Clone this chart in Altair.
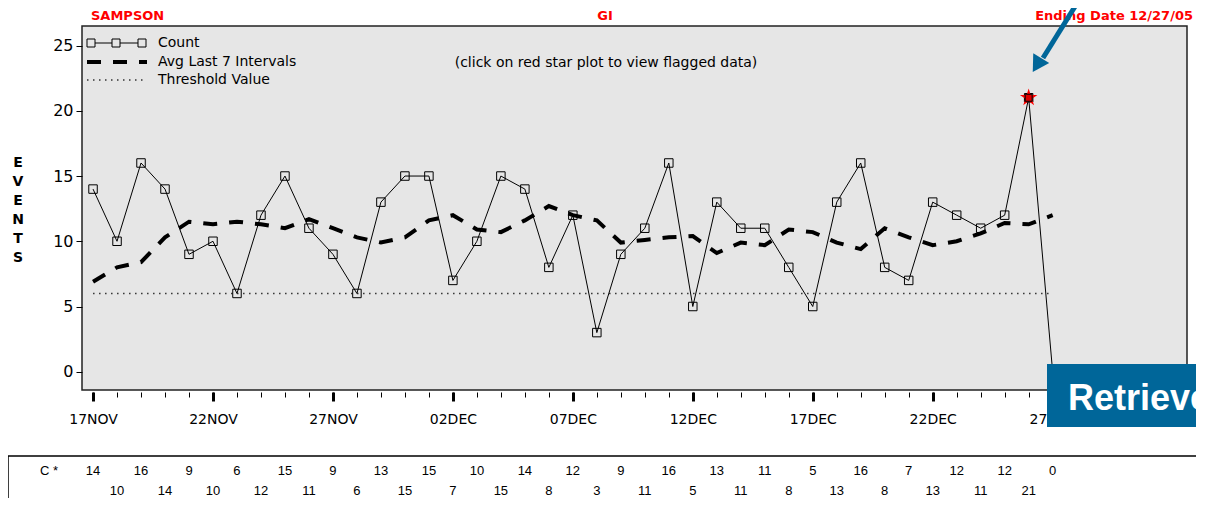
import json
import altair as alt
import pandas as pd

# ---------------- data ----------------
tick_labels = ["17NOV", "22NOV", "27NOV", "02DEC", "07DEC", "12DEC", "17DEC", "22DEC", "27DEC"]
counts = [14, 10, 16, 14, 9, 10, 6, 12, 15, 11, 9, 6, 13, 15, 15, 7, 10, 15, 14, 8,
          12, 3, 9, 11, 16, 5, 13, 11, 11, 8, 5, 13, 16, 8, 7, 13, 12, 11, 12, 21, 0]
avg_last7 = [6.9, 8.0, 8.4, 10.3, 11.5, 11.3, 11.5, 11.3, 11.0, 11.7, 11.0, 10.3, 9.9, 10.3,
             11.6, 12.0, 10.9, 10.7, 11.6, 12.7, 12.0, 11.6, 9.9, 10.1, 10.3, 10.4, 9.1, 9.9,
             9.7, 10.9, 10.7, 9.9, 9.4, 11.0, 10.3, 9.7, 10.0, 10.6, 11.4, 11.3, 12.0]
threshold = 6
flag_day = 39  # 26DEC, flagged value

days = list(range(len(counts)))
df = pd.DataFrame({
    "day": days,
    "count": counts,
    "avg": avg_last7,
    "thr": [threshold] * len(days),
    "row": [d % 2 for d in days],
})
flag_df = df[df["day"] == flag_day]
one = pd.DataFrame({"k": [0]})

FONT = "DejaVu Sans"
RED = "#ff0000"
BLUE = "#006699"

xscale = alt.Scale(domain=[-0.46, 45.6], nice=False, zero=False)
yscale = alt.Scale(domain=[-1.4, 26.5], nice=False, zero=False)

X = alt.X("day:Q", scale=xscale, axis=None)
Y_none = lambda f: alt.Y(f, scale=yscale, axis=None)

label_expr = json.dumps(tick_labels) + "[round(datum.value / 5)]"

# x axis with major ticks + labels
major_axis = alt.Axis(values=list(range(0, 41, 5)), labelExpr=label_expr, tickSize=9, tickWidth=3,
                      tickColor="black", domain=False, grid=False, labelFont=FONT, labelFontSize=14,
                      labelColor="black", labelPadding=11, offset=2, title=None, orient="bottom",
                      labelFlush=False, labelOverlap=False)
minor_axis = alt.Axis(values=list(range(0, 41)), labels=False, tickSize=5, tickWidth=1,
                      tickColor="black", domain=False, grid=False, offset=2, title=None, orient="bottom")
y_axis = alt.Axis(values=[0, 5, 10, 15, 20, 25], tickSize=6, tickColor="black", domain=False,
                  grid=False, labelFont=FONT, labelFontSize=16, labelColor="black", labelPadding=3,
                  title=None, orient="left")

base = alt.Chart(df)

threshold_line = base.mark_line(color="#333333", strokeWidth=1.5, strokeDash=[1.5, 4.5]).encode(
    x=alt.X("day:Q", scale=xscale, axis=minor_axis),
    y=alt.Y("thr:Q", scale=yscale, axis=y_axis),
)
avg_line = base.mark_line(color="black", strokeWidth=4, strokeDash=[14, 12], strokeCap="butt").encode(
    x=X, y=Y_none("avg:Q"))
count_line = base.mark_line(color="black", strokeWidth=1).encode(
    x=alt.X("day:Q", scale=xscale, axis=major_axis), y=Y_none("count:Q"))
count_pts = base.mark_point(shape="square", size=72, filled=False, color="black", strokeWidth=1,
                            opacity=1).encode(x=X, y=Y_none("count:Q"))

star_path = ("M0,-1L0.2245,-0.309L0.9511,-0.309L0.3633,0.118L0.5878,0.809L0,0.382L-0.5878,0.809"
             "L-0.3633,0.118L-0.9511,-0.309L-0.2245,-0.309Z")
flag_star = alt.Chart(flag_df).mark_point(shape=star_path, size=340, filled=True, color=RED,
                                          opacity=1).encode(x=X, y=Y_none("count:Q"))
flag_sq = alt.Chart(flag_df).mark_point(shape="square", size=49, filled=True, fill="#dd0000",
                                        stroke="black", strokeWidth=1, opacity=1).encode(
    x=X, y=Y_none("count:Q"))


def txt(s, x, y, **kw):
    return alt.Chart(one).mark_text(text=s, **kw).encode(x=alt.value(x), y=alt.value(y))


# titles above the plot
titles = [
    txt("SAMPSON", 9, -6, align="left", baseline="alphabetic", font=FONT, fontSize=13, fontWeight="bold", color=RED),
    txt("GI", 523, -6, align="center", baseline="alphabetic", font=FONT, fontSize=13, fontWeight="bold", color=RED),
    txt("Ending Date 12/27/05", 1111, -6, align="right", baseline="alphabetic", font=FONT, fontSize=13,
        fontWeight="bold", color=RED),
    txt("(click on red star plot to view flagged data)", 524, 37, align="center", baseline="middle",
        font=FONT, fontSize=14, color="black"),
    alt.Chart(one).mark_text(text=["E", "V", "E", "N", "T", "S"], lineHeight=19, align="center",
                             baseline="middle", font=FONT, fontSize=14, fontWeight="bold",
                             color="black").encode(x=alt.value(-64), y=alt.value(137)),
]

# manual legend inside the plot
legend = [
    alt.Chart(one).mark_rule(color="black", strokeWidth=1).encode(
        x=alt.value(9), x2=alt.value(60), y=alt.value(17)),
]
for sx in (9, 34, 60):
    legend.append(alt.Chart(one).mark_point(shape="square", size=64, filled=True, fill="#e6e6e6",
                                            stroke="black", strokeWidth=1, opacity=1).encode(
        x=alt.value(sx), y=alt.value(17)))
legend += [
    alt.Chart(one).mark_rule(color="black", strokeWidth=4, strokeDash=[14, 12], strokeCap="butt").encode(
        x=alt.value(5), x2=alt.value(65), y=alt.value(36)),
    alt.Chart(one).mark_rule(color="#333333", strokeWidth=1.5, strokeDash=[1.5, 4.5]).encode(
        x=alt.value(5), x2=alt.value(65), y=alt.value(54)),
    txt("Count", 76, 17, align="left", baseline="middle", font=FONT, fontSize=14, color="black"),
    txt("Avg Last 7 Intervals", 76, 36, align="left", baseline="middle", font=FONT, fontSize=14, color="black"),
    txt("Threshold Value", 76, 54, align="left", baseline="middle", font=FONT, fontSize=14, color="black"),
]

# data table under the chart
table = [
    alt.Chart(one).mark_rect(fill="white", stroke="black", strokeWidth=1.5).encode(
        x=alt.value(-74), x2=alt.value(1200), y=alt.value(430), y2=alt.value(600)),
    txt("C *", -33, 445, align="center", baseline="middle", font="Liberation Sans", fontSize=13, color="black"),
    base.transform_filter("datum.row == 0").mark_text(font="Liberation Sans", fontSize=13, color="black",
                                                      baseline="middle").encode(
        x=X, y=alt.value(445), text="count:Q"),
    base.transform_filter("datum.row == 1").mark_text(font="Liberation Sans", fontSize=13, color="black",
                                                      baseline="middle").encode(
        x=X, y=alt.value(465), text="count:Q"),
]

# slide overlays: arrow and "Retrieve" box
overlay = [
    alt.Chart(one).mark_rule(color=BLUE, strokeWidth=5).encode(
        x=alt.value(997), y=alt.value(-26), x2=alt.value(961), y2=alt.value(32)),
    alt.Chart(one).mark_point(shape="triangle-down", size=350, filled=True, color=BLUE, opacity=1,
                              angle=31.5).encode(x=alt.value(955), y=alt.value(39)),
    alt.Chart(one).mark_rect(fill=BLUE).encode(
        x=alt.value(965), x2=alt.value(1200), y=alt.value(338), y2=alt.value(401)),
    txt("Retrieve", 986, 384, align="left", baseline="alphabetic", font="Liberation Sans", fontSize=36,
        fontWeight="bold", color="white"),
]

chart = alt.layer(
    threshold_line, avg_line, count_line, count_pts, flag_star, flag_sq,
    *titles, *legend, *table, *overlay,
).resolve_axis(x="independent", y="independent").properties(
    width=1105, height=364,
    autosize=alt.AutoSizeParams(type="none"),
    padding={"left": 74, "top": 18, "right": 9, "bottom": 108},
    background="white",
).configure_view(fill="#e6e6e6", stroke="#222222", strokeWidth=1.5)

chart.save("out.html", embed_options={"renderer": "svg", "actions": False})
